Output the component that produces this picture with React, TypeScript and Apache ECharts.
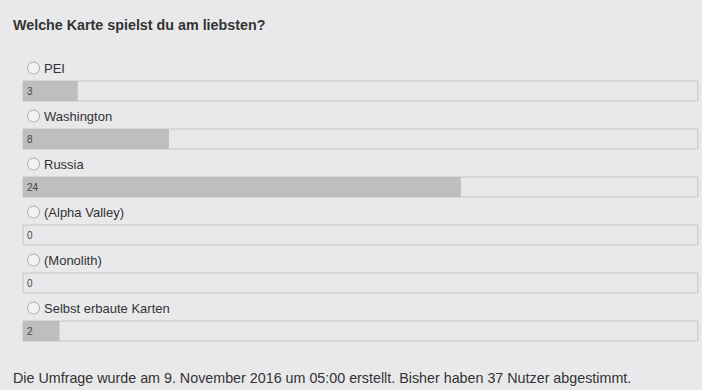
import React, { useEffect, useRef } from "react";
import * as echarts from "echarts";

const title = "Welche Karte spielst du am liebsten?";
const categories = ["PEI", "Washington", "Russia", "(Alpha Valley)", "(Monolith)", "Selbst erbaute Karten"];
const votes = [3, 8, 24, 0, 0, 2];
const createdText = "Die Umfrage wurde am 9. November 2016 um 05:00 erstellt.";

export default function App() {
  const ref = useRef<HTMLDivElement>(null);
  useEffect(() => {
    document.body.style.margin = "0";
    const chart = echarts.init(ref.current!, null, { renderer: "svg" });
    const total = votes.reduce((a, b) => a + b, 0);
    const font = "'Liberation Sans', Arial, sans-serif";
    chart.setOption({
      animation: false,
      backgroundColor: "#e9e9eb",
      title: [
        {
          text: title,
          left: 8,
          top: 13,
          textStyle: { fontFamily: font, fontSize: 14.3, fontWeight: "bold", color: "#333" },
        },
        {
          text: `${createdText} Bisher haben ${total} Nutzer abgestimmt.`,
          left: 8,
          top: 366,
          textStyle: { fontFamily: font, fontSize: 14.3, fontWeight: "normal", color: "#333" },
        },
      ],
      grid: { left: 23, right: 4, top: 67, bottom: 35 },
      xAxis: { type: "value", min: 0, max: total, show: false },
      yAxis: {
        type: "category",
        inverse: true,
        data: categories,
        axisLine: { show: false },
        axisTick: { show: false },
        splitLine: { show: false },
        axisLabel: {
          inside: true,
          margin: 5,
          align: "left",
          verticalAlign: "middle",
          padding: [0, 0, 46, 0],
          formatter: (v: string) => `{r|}{t|${v}}`,
          rich: {
            r: {
              width: 11,
              height: 11,
              borderRadius: 6,
              borderWidth: 1,
              borderColor: "#b0b0b0",
              backgroundColor: "#f3f3f3",
            },
            t: { fontFamily: font, fontSize: 13, color: "#333", padding: [0, 0, 0, 5] },
          },
        },
      },
      series: [
        {
          type: "bar",
          data: votes,
          barWidth: 20,
          showBackground: true,
          backgroundStyle: { color: "#e8e8ea", borderColor: "#c6c6c6", borderWidth: 1 },
          itemStyle: { color: "#bebebe" },
          label: {
            show: true,
            position: "insideLeft",
            distance: 4,
            fontFamily: font,
            fontSize: 10,
            color: "#444",
          },
        },
      ],
    });
    return () => chart.dispose();
  }, []);
  return <div ref={ref} style={{ width: 702, height: 390 }} />;
}
